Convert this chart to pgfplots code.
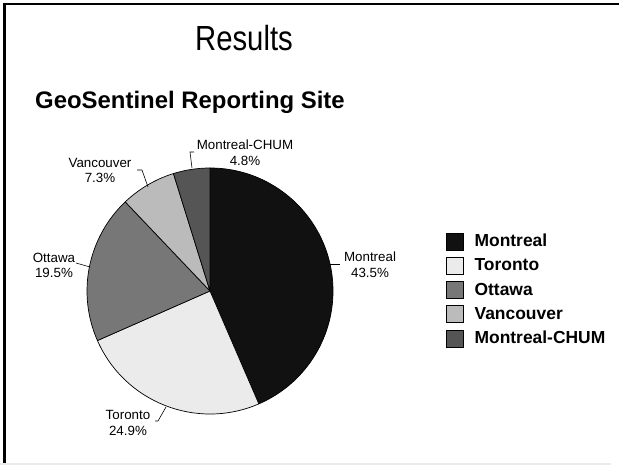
\documentclass[border=0pt]{standalone}
\usepackage{graphicx}
\usepackage{pgfplots}
\pgfplotsset{compat=1.18}
\usepackage{pgfplotstable}
\usepackage{fontspec}
\setmainfont{Liberation Sans}
\definecolor{slice0}{HTML}{111111}
\definecolor{slice1}{HTML}{EBEBEB}
\definecolor{slice2}{HTML}{777777}
\definecolor{slice3}{HTML}{BBBBBB}
\definecolor{slice4}{HTML}{555555}

\pgfplotstableread{
name value
Montreal 43.5
Toronto 24.9
Ottawa 19.5
Vancouver 7.3
Montreal-CHUM 4.8
}\piedata

\begin{document}
\begin{tikzpicture}
\fill[white] (0,0) rectangle (619bp,465bp);
\begin{axis}[
  at={(0,0)}, anchor=south west,
  width=619bp, height=465bp, scale only axis,
  xmin=0, xmax=619, ymin=0, ymax=465,
  hide axis, clip=false,
  legend image code/.code={\draw[#1] (0bp,-8.5bp) rectangle (17bp,8.5bp);},
  legend style={draw=none, fill=none, at={(axis cs:446,233)}, anchor=north west,
    inner sep=0pt, row sep=6.6bp,
    /tikz/every odd column/.append style={column sep=9bp},
    font=\fontsize{17.5}{20}\selectfont\bfseries},
  legend cell align=left,
]
% frame
\fill[black!8] (axis cs:0,0) rectangle (axis cs:619,2);
\fill[black] (axis cs:2.7,2) rectangle (axis cs:5.6,462.3);
\fill[black] (axis cs:2.7,459.7) rectangle (axis cs:619,462.3);
% titles
\node[anchor=base, inner sep=0pt, font=\fontsize{35}{40}\selectfont] at (axis cs:244,414) {\scalebox{0.84}[1]{Results}};
\node[anchor=base west, inner sep=0pt, font=\fontsize{24}{28}\selectfont\bfseries] at (axis cs:35,356) {GeoSentinel Reporting Site};
% pie slices
\pgfmathsetmacro\cum{90}
\pgfplotsforeachungrouped \i in {0,...,4}{%
  \pgfplotstablegetelem{\i}{value}\of\piedata
  \pgfmathsetmacro\endang{\cum-3.6*\pgfplotsretval}%
  \edef\temp{\noexpand\filldraw[fill=slice\i, draw=black, line width=0.7pt, line join=round] (axis cs:210,174) -- ++(\cum:123bp) arc[start angle=\cum, end angle=\endang, radius=123bp] -- cycle;}%
  \temp
  \global\let\cum\endang
}
% leader lines
\draw[line width=0.6pt] (axis cs:194,313) -- (axis cs:190,313) -- (axis cs:192,297);
\draw[line width=0.6pt] (axis cs:137,295) -- (axis cs:142,295) -- (axis cs:148,278);
\draw[line width=0.6pt] (axis cs:76,202) -- (axis cs:90,198);
\draw[line width=0.6pt] (axis cs:330,201) -- (axis cs:340,201);
\draw[line width=0.6pt] (axis cs:155,44) -- (axis cs:158,44) -- (axis cs:166,58);
% labels
\tikzset{lbl/.style={font=\fontsize{13.4}{15.6}\selectfont, align=center, inner sep=0pt}}
\node[lbl] at (axis cs:245,312.5) {Montreal-CHUM\\4.8\%};
\node[lbl] at (axis cs:100,294.5) {Vancouver\\7.3\%};
\node[lbl] at (axis cs:54,199.5) {Ottawa\\19.5\%};
\node[lbl] at (axis cs:370,200) {Montreal\\43.5\%};
\node[lbl] at (axis cs:128,42) {Toronto\\24.9\%};
% legend
\addlegendimage{fill=slice0, draw=black}
\addlegendimage{fill=slice1, draw=black}
\addlegendimage{fill=slice2, draw=black}
\addlegendimage{fill=slice3, draw=black}
\addlegendimage{fill=slice4, draw=black}
\legend{Montreal, Toronto, Ottawa, Vancouver, Montreal-CHUM}
\end{axis}
\fill[white] (611bp,0) rectangle (619bp,459bp);
\end{tikzpicture}
\end{document}
